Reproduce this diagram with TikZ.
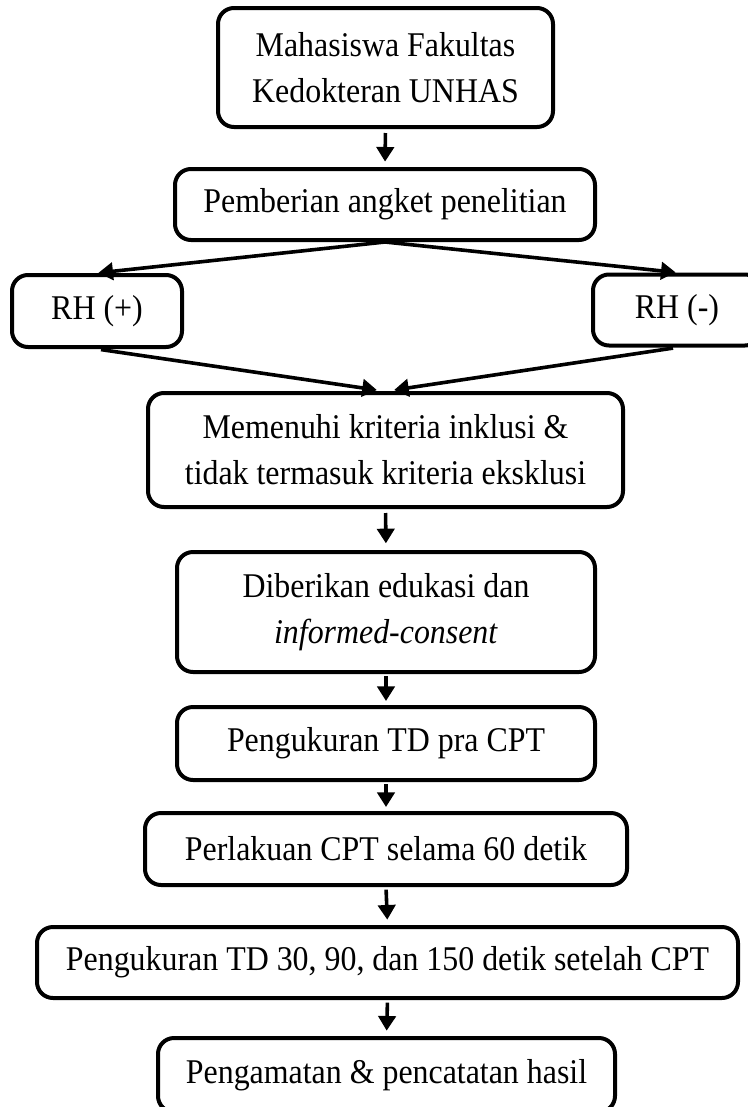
\documentclass[tikz,border=0pt]{standalone}
\usepackage{fontspec}
\setmainfont[FakeStretch=0.92]{Liberation Serif}
\usetikzlibrary{arrows.meta}
\tikzset{every picture/.style={line width=0.75pt}}

\begin{document}
\begin{tikzpicture}[x=0.75pt,y=0.75pt,yscale=-1,xscale=1,
  flowbox/.style={draw, line width=3pt, rounded corners=12pt, align=center, inner sep=0pt,
    font=\fontsize{26}{34.5}\selectfont},
  sz/.style 2 args={minimum width=#1*0.75pt, minimum height=#2*0.75pt},
  flowarr/.style={line width=2.7pt, -{Triangle[length=11pt,width=13pt]}}]
%set diagram size 748 x 1107
\path[use as bounding box] (0,0) rectangle (748,1107);
\clip (0,0) rectangle (748,1107);

%Boxes
\node[flowbox, sz={335}{119}] (mhs) at (385.5,67.5) {Mahasiswa Fakultas\\Kedokteran UNHAS};
\node[flowbox, sz={420}{71}] (angket) at (385,204.5) {Pemberian angket penelitian};
\node[flowbox, sz={170}{72}] (rhpos) at (97,311) {RH (+)};
\node[flowbox, sz={168}{71}] (rhneg) at (677,310) {RH (-)};
\node[flowbox, sz={475}{114}] (kriteria) at (385.5,450) {Memenuhi kriteria inklusi \&\\tidak termasuk kriteria eksklusi};
\node[flowbox, sz={418}{120}] (edukasi) at (386,612) {Diberikan edukasi dan\\\textit{informed-consent}};
\node[flowbox, sz={418}{73}] (ukurpra) at (386,743.5) {Pengukuran TD pra CPT};
\node[flowbox, sz={482}{72}] (cpt) at (386,849) {Perlakuan CPT selama 60 detik};
\node[flowbox, sz={701}{71}] (ukurpasca) at (387.5,962.5) {Pengukuran TD 30, 90, dan 150 detik setelah CPT};
\node[flowbox, sz={457}{74}] (hasil) at (386.5,1075) {Pengamatan \& pencatatan hasil};

%Arrows
\draw[flowarr, shorten <=3pt, shorten >=4pt] (mhs.south) -- (angket.north);
\draw[flowarr, shorten >=1pt] (angket.south) -- (rhpos.north);
\draw[flowarr, shorten >=1pt] (angket.south) -- (rhneg.north);
\draw[flowarr, shorten <=3pt, shorten >=5pt] (rhpos.south) -- ([xshift=-1.5pt]kriteria.north);
\draw[flowarr, shorten <=3pt, shorten >=5pt] (rhneg.south) -- ([xshift=1.5pt]kriteria.north);
\draw[flowarr, shorten <=3pt, shorten >=5pt] (kriteria.south) -- (edukasi.north);
\draw[flowarr, shorten <=1.5pt, shorten >=3pt] (edukasi.south) -- (ukurpra.north);
\draw[flowarr, shorten <=1.5pt, shorten >=3pt] (ukurpra.south) -- (cpt.north);
\draw[flowarr, shorten <=2pt, shorten >=4pt] (cpt.south) -- (ukurpasca.north);
\draw[flowarr, shorten <=2pt, shorten >=4pt] (ukurpasca.south) -- (hasil.north);

\end{tikzpicture}
\end{document}
